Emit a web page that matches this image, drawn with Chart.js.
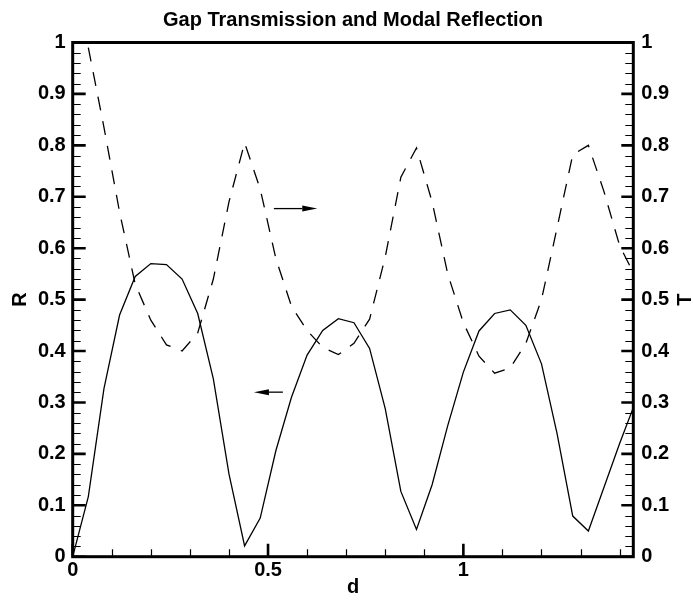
<!DOCTYPE html>
<html>
<head>
<meta charset="utf-8">
<title>Gap Transmission and Modal Reflection</title>
<script src="https://cdn.jsdelivr.net/npm/chart.js@4.4.1/dist/chart.umd.min.js"></script>
<style>
  html, body { margin: 0; padding: 0; background: #ffffff; }
  #wrap { width: 693px; height: 602px; }
</style>
</head>
<body>
<div id="wrap"><canvas id="chart" width="693" height="602"></canvas></div>
<script>
// gap width d, sampled every 0.04
const dValues = [0, 0.04, 0.08, 0.12, 0.16, 0.20, 0.24, 0.28, 0.32, 0.36, 0.40, 0.44, 0.48,
  0.52, 0.56, 0.60, 0.64, 0.68, 0.72, 0.76, 0.80, 0.84, 0.88, 0.92, 0.96, 1.00,
  1.04, 1.08, 1.12, 1.16, 1.20, 1.24, 1.28, 1.32, 1.36, 1.40, 1.44]

// modal reflection R (solid, left axis)
const reflection = [0, 0.117, 0.327, 0.470, 0.545, 0.570, 0.568, 0.540, 0.473, 0.346, 0.161, 0.021, 0.075,
  0.206, 0.310, 0.392, 0.440, 0.463, 0.455, 0.405, 0.288, 0.127, 0.053, 0.140, 0.255, 0.359,
  0.439, 0.473, 0.480, 0.450, 0.375, 0.239, 0.079, 0.050, 0.135, 0.220, 0.300]

// gap transmission T (dashed, right axis), starts at d = 0.04
const transD = dValues.slice(1)
const transmission = [0.990, 0.835, 0.670, 0.530, 0.460, 0.412, 0.400, 0.435, 0.540, 0.690, 0.805, 0.715,
  0.580, 0.487, 0.440, 0.407, 0.393, 0.415, 0.462, 0.583, 0.738, 0.795, 0.690, 0.550, 0.455,
  0.390, 0.357, 0.367, 0.415, 0.500, 0.640, 0.782, 0.800, 0.710, 0.605, 0.545]

const xTicks = [0, 0.5, 1]
const xTickLabels = ['0', '0.5', '1']
const yTicks = [0, 0.1, 0.2, 0.3, 0.4, 0.5, 0.6, 0.7, 0.8, 0.9, 1]
const yTickLabels = ['0', '0.1', '0.2', '0.3', '0.4', '0.5', '0.6', '0.7', '0.8', '0.9', '1']

// arrows: [x from, x to, level]
const arrowT = [0.515, 0.626, 0.677]
const arrowR = [0.538, 0.464, 0.320]

const X_MAX = 1.435
const FONT = '"Liberation Sans", Arial, Helvetica, sans-serif'

const xMinor = []
for (let i = 1; i * 0.1 < X_MAX; i++) if (i % 5 !== 0) xMinor.push(i * 0.1)
const yMinor = []
for (let i = 1; i < 50; i++) if (i % 5 !== 0) yMinor.push(i * 0.02)

function drawArrow(ctx, x0, x1, y) {
  const dir = Math.sign(x1 - x0)
  const headLen = 15
  ctx.beginPath()
  ctx.moveTo(x0, y)
  ctx.lineTo(x1 - dir * headLen, y)
  ctx.lineWidth = 1.3
  ctx.stroke()
  ctx.beginPath()
  ctx.moveTo(x1, y)
  ctx.lineTo(x1 - dir * headLen, y - 3)
  ctx.lineTo(x1 - dir * headLen, y + 3)
  ctx.closePath()
  ctx.fill()
}

const frameAndTicks = {
  id: 'frameAndTicks',
  afterDatasetsDraw(chart) {
    const { ctx, chartArea: a, scales } = chart
    const { x, y, y2 } = scales
    ctx.save()
    ctx.strokeStyle = '#000'
    ctx.fillStyle = '#000'

    // minor ticks, pointing inward
    ctx.lineWidth = 1.2
    ctx.beginPath()
    yMinor.forEach((v) => {
      const pl = Math.round(y.getPixelForValue(v)) + 0.5
      ctx.moveTo(a.left, pl)
      ctx.lineTo(a.left + 8, pl)
      const pr = Math.round(y2.getPixelForValue(v)) + 0.5
      ctx.moveTo(a.right, pr)
      ctx.lineTo(a.right - 8, pr)
    })
    xMinor.forEach((v) => {
      const px = Math.round(x.getPixelForValue(v)) + 0.5
      ctx.moveTo(px, a.bottom)
      ctx.lineTo(px, a.bottom - 7.5)
    })
    ctx.stroke()

    // major ticks
    ctx.lineWidth = 2.6
    ctx.beginPath()
    yTicks.forEach((v) => {
      const pl = y.getPixelForValue(v)
      ctx.moveTo(a.left, pl)
      ctx.lineTo(a.left + 13, pl)
      const pr = y2.getPixelForValue(v)
      ctx.moveTo(a.right, pr)
      ctx.lineTo(a.right - 12, pr)
    })
    xTicks.forEach((v) => {
      const px = x.getPixelForValue(v)
      ctx.moveTo(px, a.bottom)
      ctx.lineTo(px, a.bottom - 13)
    })
    ctx.stroke()

    // frame
    ctx.lineWidth = 3
    ctx.strokeRect(a.left, a.top, a.right - a.left, a.bottom - a.top)

    // direction arrows
    drawArrow(ctx, x.getPixelForValue(arrowT[0]), x.getPixelForValue(arrowT[1]), y2.getPixelForValue(arrowT[2]))
    drawArrow(ctx, x.getPixelForValue(arrowR[0]), x.getPixelForValue(arrowR[1]), y.getPixelForValue(arrowR[2]))

    // right axis title, rotated the same way as the left one
    ctx.font = `bold 20px ${FONT}`
    ctx.textAlign = 'center'
    ctx.textBaseline = 'middle'
    ctx.translate(685, (a.top + a.bottom) / 2)
    ctx.rotate(-Math.PI / 2)
    ctx.fillText('T', 0, 0)
    ctx.restore()
  },
}

const tickFont = { family: FONT, size: 20, weight: 'bold' }
const labelFont = { family: FONT, size: 20, weight: 'bold' }

new Chart(document.getElementById('chart'), {
  type: 'scatter',
  data: {
    datasets: [
      {
        label: 'R',
        data: dValues.map((d, i) => ({ x: d, y: reflection[i] })),
        yAxisID: 'y',
        showLine: true,
        borderColor: '#000',
        borderWidth: 1.3,
        pointRadius: 0,
        tension: 0,
      },
      {
        label: 'T',
        data: transD.map((d, i) => ({ x: d, y: transmission[i] })),
        yAxisID: 'y2',
        showLine: true,
        borderColor: '#000',
        borderWidth: 1.3,
        borderDash: [14, 11],
        pointRadius: 0,
        tension: 0,
      },
    ],
  },
  options: {
    responsive: false,
    animation: false,
    devicePixelRatio: 1,
    layout: { padding: 0 },
    plugins: {
      legend: { display: false },
      tooltip: { enabled: false },
      title: {
        display: true,
        fullSize: false,
        text: 'Gap Transmission and Modal Reflection',
        color: '#000',
        font: { family: FONT, size: 20, weight: 'bold' },
        padding: { top: 8.5, bottom: 10 },
      },
    },
    scales: {
      x: {
        type: 'linear',
        min: 0,
        max: X_MAX,
        afterFit: (s) => { s.height = 45.3 },
        afterBuildTicks: (s) => { s.ticks = xTicks.map((v) => ({ value: v })) },
        grid: { display: false, drawTicks: false },
        border: { display: false },
        ticks: {
          autoSkip: false,
          maxRotation: 0,
          padding: 1.5,
          color: '#000',
          font: tickFont,
          callback: (v, i) => xTickLabels[i],
        },
        title: { display: true, text: 'd', color: '#000', font: labelFont, padding: { top: 0, bottom: 3 } },
      },
      y: {
        type: 'linear',
        position: 'left',
        min: 0,
        max: 1,
        afterFit: (s) => { s.width = 72.7 },
        afterBuildTicks: (s) => { s.ticks = yTicks.map((v) => ({ value: v })) },
        grid: { display: false, drawTicks: false },
        border: { display: false },
        ticks: {
          autoSkip: false,
          padding: 7,
          color: '#000',
          font: tickFont,
          callback: (v, i) => yTickLabels[i],
        },
        title: { display: true, text: 'R', color: '#000', font: labelFont, padding: { top: 8, bottom: 0 } },
      },
      y2: {
        type: 'linear',
        position: 'right',
        min: 0,
        max: 1,
        afterFit: (s) => { s.width = 59.7 },
        afterBuildTicks: (s) => { s.ticks = yTicks.map((v) => ({ value: v })) },
        grid: { display: false, drawTicks: false },
        border: { display: false },
        ticks: {
          autoSkip: false,
          padding: 8,
          color: '#000',
          font: tickFont,
          callback: (v, i) => yTickLabels[i],
        },
      },
    },
  },
  plugins: [frameAndTicks],
})
</script>
</body>
</html>
